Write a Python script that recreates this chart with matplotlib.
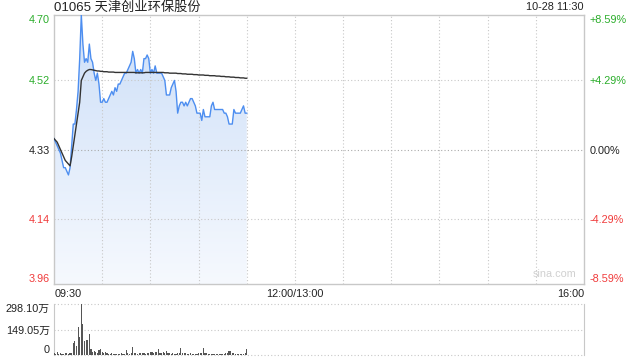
import matplotlib
matplotlib.use("Agg")
import matplotlib.pyplot as plt
import numpy as np
from matplotlib.colors import LinearSegmentedColormap

plt.rcParams['font.family'] = ['Liberation Sans', 'Noto Sans CJK SC', 'DejaVu Sans']

title = "01065 天津创业环保股份"
stamp = "10-28 11:30"
prev_close = 4.33
price_ticks = [4.70, 4.52, 4.33, 4.14, 3.96]
price_labels = ["4.70", "4.52", "4.33", "4.14", "3.96"]
pct_labels = ["+8.59%", "+4.29%", "0.00%", "-4.29%", "-8.59%"]
time_labels = ["09:30", "12:00/13:00", "16:00"]
vol_ticks = [298.10, 149.05, 0]
vol_labels = ["298.10万", "149.05万", "0"]

price = [4.36, 4.35, 4.34, 4.33, 4.32, 4.30, 4.28, 4.28, 4.27, 4.26,
         4.28, 4.34, 4.40, 4.40, 4.44, 4.49, 4.58, 4.70, 4.62, 4.57,
         4.58, 4.57, 4.62, 4.58, 4.57, 4.54, 4.52, 4.54, 4.51, 4.46,
         4.46, 4.47, 4.46, 4.46, 4.47, 4.48, 4.49, 4.48, 4.50, 4.49,
         4.51, 4.51, 4.52, 4.53, 4.54, 4.54, 4.55, 4.56, 4.57, 4.60,
         4.58, 4.54, 4.55, 4.54, 4.55, 4.54, 4.58, 4.58, 4.59, 4.58,
         4.54, 4.55, 4.54, 4.56, 4.54, 4.54, 4.54, 4.54, 4.53, 4.52,
         4.48, 4.48, 4.48, 4.50, 4.51, 4.52, 4.49, 4.43, 4.45, 4.46,
         4.46, 4.45, 4.46, 4.45, 4.46, 4.47, 4.47, 4.46, 4.45, 4.43,
         4.43, 4.43, 4.41, 4.44, 4.42, 4.42, 4.42, 4.42, 4.45, 4.46,
         4.44, 4.44, 4.44, 4.44, 4.44, 4.44, 4.43, 4.43, 4.42, 4.40,
         4.40, 4.40, 4.44, 4.43, 4.43, 4.43, 4.43, 4.44, 4.45, 4.43,
         4.43]

avg = [4.360, 4.355, 4.350, 4.340, 4.330, 4.320, 4.310, 4.300, 4.295, 4.290,
       4.285, 4.310, 4.340, 4.370, 4.400, 4.430, 4.460, 4.520, 4.530, 4.540,
       4.545, 4.548, 4.550, 4.550, 4.549, 4.548, 4.547, 4.546, 4.546, 4.545,
       4.545, 4.544, 4.544, 4.544, 4.543, 4.543, 4.543, 4.543, 4.542, 4.542,
       4.542, 4.542, 4.542, 4.542, 4.542, 4.542, 4.542, 4.542, 4.542, 4.542,
       4.542, 4.541, 4.541, 4.541, 4.541, 4.541, 4.541, 4.542, 4.542, 4.542,
       4.542, 4.542, 4.542, 4.542, 4.542, 4.542, 4.542, 4.542, 4.542, 4.541,
       4.541, 4.541, 4.540, 4.540, 4.540, 4.540, 4.540, 4.539, 4.539, 4.539,
       4.538, 4.538, 4.538, 4.537, 4.537, 4.537, 4.537, 4.536, 4.536, 4.536,
       4.535, 4.535, 4.535, 4.535, 4.534, 4.534, 4.534, 4.533, 4.533, 4.533,
       4.533, 4.532, 4.532, 4.532, 4.531, 4.531, 4.531, 4.530, 4.530, 4.530,
       4.529, 4.529, 4.529, 4.528, 4.528, 4.528, 4.527, 4.527, 4.527, 4.526,
       4.526]

volume = [10, 5, 15, 8, 12, 5, 8, 10, 12, 8,
          14, 12, 72, 82, 53, 162, 105, 298.1, 180, 82,
          85, 88, 125, 33, 18, 25, 16, 12, 30, 33,
          15, 10, 16, 10, 8, 8, 9, 8, 8, 8,
          8, 7, 12, 8, 6, 30, 12, 8, 10, 45,
          14, 10, 8, 12, 10, 14, 12, 8, 10, 14,
          15, 16, 12, 15, 20, 33, 14, 12, 15, 10,
          24, 12, 10, 8, 10, 8, 6, 10, 12, 39,
          12, 14, 10, 8, 6, 10, 8, 6, 5, 8,
          10, 12, 10, 39, 14, 10, 8, 6, 5, 6,
          5, 6, 8, 6, 5, 6, 8, 10, 12, 25,
          25, 14, 10, 8, 6, 5, 6, 8, 6, 10,
          33]

minutes = np.arange(len(price))

GREEN = '#2aad2a'
RED = '#f03a3a'
GRID = '#c8c8c8'
SPINE = '#c8c8c8'

fig = plt.figure(figsize=(6.4, 3.6), dpi=100)
W, H = 640, 360
ax = fig.add_axes([54 / W, 1 - 284 / H, 530 / W, 269 / H])
ax.set_xlim(0, 330)
ax.set_ylim(3.96, 4.70)

# gradient fill under the price line
cmap = LinearSegmentedColormap.from_list('g', ['#f6f9fe', '#cddff8'])
grad = np.linspace(0, 1, 256).reshape(-1, 1)
im = ax.imshow(grad, extent=[0, minutes[-1], 3.96, 4.70], origin='lower',
               aspect='auto', cmap=cmap, zorder=1)
poly = ax.fill_between(minutes, price, 3.96, color='none', lw=0)
im.set_clip_path(poly.get_paths()[0], transform=ax.transData)

ax.plot(minutes, price, color='#4d8ef0', lw=1.0, zorder=3)
ax.plot(minutes, avg, color='#333333', lw=1.0, zorder=4)

# grid
for t in range(30, 330, 30):
    ax.axvline(t, color=GRID, lw=0.8, ls=(0, (1, 2)), zorder=2)
for v in price_ticks[1:-1]:
    ax.axhline(v, color=GRID if v != prev_close else '#aaaaaa', lw=0.8,
               ls=(0, (1, 2)), zorder=2)

for s in ax.spines.values():
    s.set_color(SPINE)
    s.set_linewidth(1)
ax.set_xticks([])
ax.set_yticks(price_ticks)
ax.set_yticklabels(price_labels)
ax.tick_params(axis='y', length=0, pad=3, labelsize=7.8)
lab_colors = [GREEN, GREEN, '#222222', RED, RED]
for lbl, c in zip(ax.get_yticklabels(), lab_colors):
    lbl.set_color(c)
ax.get_yticklabels()[0].set_va('top')
ax.get_yticklabels()[-1].set_va('bottom')

axr = ax.twinx()
axr.set_ylim(3.96, 4.70)
axr.set_yticks(price_ticks)
axr.set_yticklabels(pct_labels)
axr.tick_params(axis='y', length=0, pad=4, labelsize=7.8)
for lbl, c in zip(axr.get_yticklabels(), lab_colors):
    lbl.set_color(c)
axr.get_yticklabels()[0].set_va('top')
axr.get_yticklabels()[-1].set_va('bottom')
for s in axr.spines.values():
    s.set_visible(False)

# title and stamp
fig.text(54 / W, 1 - 7.5 / H, title, fontsize=9.5, color='#222222', va='center', ha='left')
fig.text(584 / W, 1 - 7.5 / H, stamp, fontsize=7.8, color='#222222', va='center', ha='right')

# time labels
ty = 1 - 294 / H
fig.text(55 / W, ty, time_labels[0], fontsize=7.8, color='#222222', va='center', ha='left')
fig.text((54 + 530 * 150 / 330) / W, ty, time_labels[1], fontsize=7.8, color='#222222', va='center', ha='center')
fig.text(584 / W, ty, time_labels[2], fontsize=7.8, color='#222222', va='center', ha='right')

# watermark
ax.text(0.985, 0.02, "sina.com", transform=ax.transAxes, ha='right', va='bottom',
        fontsize=7.8, color='#d0d0d0', zorder=5)

# volume panel
axv = fig.add_axes([54 / W, 1 - 355 / H, 530 / W, 51 / H])
axv.set_xlim(0, 330)
axv.set_ylim(0, 298.1)
axv.bar(minutes, volume, width=0.7, color='#555555', lw=0, zorder=3)
for v in vol_ticks:
    axv.axhline(v, color=GRID, lw=0.8, ls=(0, (1, 2)), zorder=2, clip_on=False)
axv.spines['top'].set_visible(False)
axv.spines['bottom'].set_visible(False)
axv.spines['left'].set_color(SPINE)
axv.spines['right'].set_color(SPINE)
axv.set_xticks([])
axv.set_yticks(vol_ticks)
axv.set_yticklabels(vol_labels)
axv.tick_params(axis='y', length=0, pad=3, labelsize=7.8, labelcolor='#222222')
axv.get_yticklabels()[0].set_va('top')
axv.get_yticklabels()[-1].set_va('bottom')

fig.savefig("out.png", dpi=100)
